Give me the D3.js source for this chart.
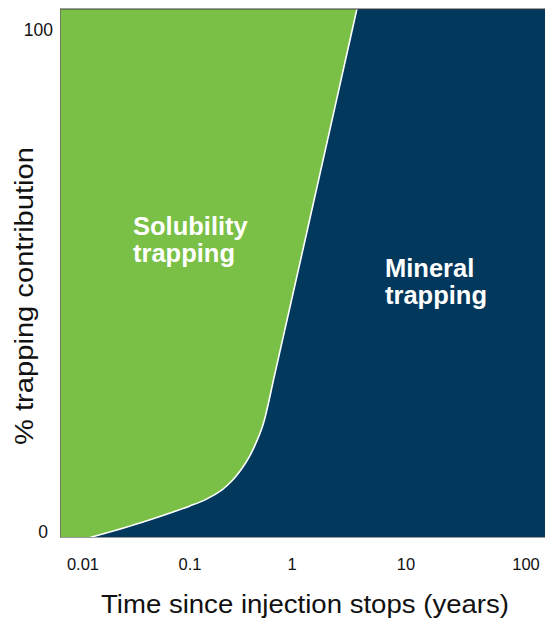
<!DOCTYPE html>
<html>
<head>
<meta charset="utf-8">
<script src="https://cdn.jsdelivr.net/npm/d3@7"></script>
<style>
  html, body { margin: 0; padding: 0; background: #fff; }
  svg { display: block; }
</style>
</head>
<body>
<svg id="chart" width="547" height="621"></svg>
<script>
// ---- data ----
const xTicks = [0.01, 0.1, 1, 10, 100];
const xTickLabels = ["0.01", "0.1", "1", "10", "100"];
const yTicks = [0, 100];
const yTickLabels = ["0", "100"];
// boundary between solubility (left/above) and mineral (right/below) trapping
const boundaryTime = [0.0116, 0.0341, 0.1, 0.1436, 0.206, 0.258, 0.324, 0.375, 0.434, 0.519, 0.681, 1.438, 3.72];
const boundaryPct  = [-1.1, 1.8, 5.2, 6.5, 8.4, 10.2, 12.7, 14.7, 17.3, 21.3, 31.6, 62.5, 104.3];
const regionLabels = [["Solubility", "trapping"], ["Mineral", "trapping"]];

// ---- layout ----
const plot = { left: 60, right: 545, top: 9, bottom: 537.5 };
const green = "#7abf46", navy = "#01385c";

const svg = d3.select("#chart");

// tick positions of this illustrative axis are not evenly spaced
const x = d3.scaleLog().domain(xTicks).range([83, 190, 292, 406, 526]);
const y = d3.scaleLinear().domain([0, 100]).range([532, 30]);

svg.append("clipPath").attr("id", "plotclip")
  .append("rect")
  .attr("x", plot.left).attr("y", plot.top)
  .attr("width", plot.right - plot.left).attr("height", plot.bottom - plot.top);

const g = svg.append("g").attr("clip-path", "url(#plotclip)");

// solubility background
g.append("rect")
  .attr("x", plot.left).attr("y", plot.top)
  .attr("width", plot.right - plot.left).attr("height", plot.bottom - plot.top)
  .attr("fill", green);

const pts = boundaryTime.map((t, i) => [x(t), y(boundaryPct[i])]);
const line = d3.line().curve(d3.curveCatmullRom.alpha(0.5));
const curvePath = line(pts);

// mineral region
g.append("path")
  .attr("d", curvePath + `L${plot.right + 2},${pts[pts.length - 1][1]}L${plot.right + 2},${plot.bottom + 2}L${pts[0][0]},${plot.bottom + 2}Z`)
  .attr("fill", navy);

// white boundary
g.append("path")
  .attr("d", curvePath)
  .attr("fill", "none")
  .attr("stroke", "#fff")
  .attr("stroke-width", 1.6);

// frame
svg.append("path")
  .attr("d", `M${plot.left},${plot.top}H${plot.right}`)
  .attr("stroke", "#3a3a3a").attr("stroke-width", 1).attr("fill", "none");
svg.append("path")
  .attr("d", `M${plot.left + 0.5},${plot.top}V${plot.bottom}`)
  .attr("stroke", "#6b7d5a").attr("stroke-width", 1).attr("fill", "none");
svg.append("path")
  .attr("d", `M${plot.left},${plot.bottom}H${plot.right}`)
  .attr("stroke", "#9a9a9a").attr("stroke-width", 1.2).attr("fill", "none");

// x tick labels
svg.append("g").selectAll("text").data(xTicks).join("text")
  .attr("x", d => x(d))
  .attr("y", 570)
  .attr("text-anchor", "middle")
  .attr("font-family", "'Liberation Sans', Arial, Helvetica, sans-serif")
  .attr("font-size", 16.5)
  .attr("fill", "#111")
  .text((d, i) => xTickLabels[i]);

// y tick labels
svg.append("g").selectAll("text").data(yTicks).join("text")
  .attr("x", (d, i) => i === 0 ? 48 : 53)
  .attr("y", d => y(d))
  .attr("dy", "0.36em")
  .attr("text-anchor", "end")
  .attr("font-family", "'Liberation Sans', Arial, Helvetica, sans-serif")
  .attr("font-size", 17.5)
  .attr("fill", "#111")
  .text((d, i) => yTickLabels[i]);

// axis titles
svg.append("text")
  .attr("x", 305).attr("y", 613)
  .attr("text-anchor", "middle")
  .attr("font-family", "'Liberation Sans', Arial, Helvetica, sans-serif")
  .attr("font-size", 25)
  .attr("textLength", 408).attr("lengthAdjust", "spacingAndGlyphs")
  .attr("fill", "#111")
  .text("Time since injection stops (years)");

svg.append("text")
  .attr("transform", "translate(33,296) rotate(-90)")
  .attr("text-anchor", "middle")
  .attr("font-family", "'Liberation Sans', Arial, Helvetica, sans-serif")
  .attr("font-size", 25)
  .attr("textLength", 298).attr("lengthAdjust", "spacingAndGlyphs")
  .attr("fill", "#111")
  .text("% trapping contribution");

// region labels
const labelPos = [{ x: 133, y: [235, 262] }, { x: 385, y: [277, 304] }];
regionLabels.forEach((lines, k) => {
  const t = svg.append("text")
    .attr("font-family", "'Liberation Sans', Arial, Helvetica, sans-serif")
    .attr("font-weight", "bold")
    .attr("font-size", 25.5)
    .attr("fill", "#fff");
  lines.forEach((s, j) => {
    t.append("tspan").attr("x", labelPos[k].x).attr("y", labelPos[k].y[j]).text(s);
  });
});
</script>
</body>
</html>
